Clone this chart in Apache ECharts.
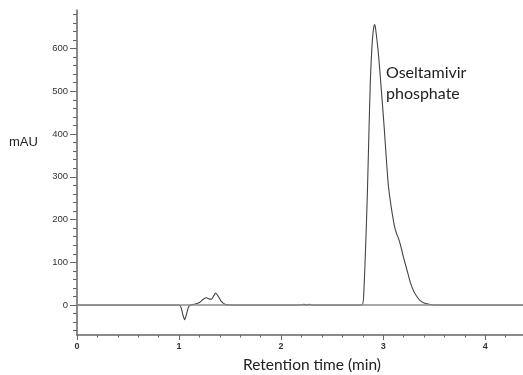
<!DOCTYPE html>
<html>
<head>
<meta charset="utf-8">
<script src="https://cdn.jsdelivr.net/npm/echarts@6/dist/echarts.min.js"></script>
<style>
  html, body { margin: 0; padding: 0; background: #fff; }
  #chart { width: 523px; height: 375px; }
</style>
</head>
<body>
<div id="chart"></div>
<script>
// Retention time (min) and detector response (mAU) of the chromatogram trace
const retentionTime = [
  0, 0.5, 1.0, 1.02, 1.04, 1.055, 1.07, 1.09, 1.11, 1.15, 1.2, 1.24, 1.27, 1.3, 1.32,
  1.34, 1.36, 1.38, 1.41, 1.45, 1.5, 2.2, 2.22, 2.25, 2.28, 2.3, 2.79, 2.81, 2.83,
  2.845, 2.86, 2.875, 2.89, 2.9, 2.908, 2.915, 2.922, 2.93, 2.95, 2.97, 2.99, 3.01,
  3.03, 3.05, 3.07, 3.09, 3.11, 3.13, 3.15, 3.17, 3.19, 3.21, 3.24, 3.27, 3.3, 3.33,
  3.36, 3.4, 3.45, 3.5, 4.37
];
const absorbance = [
  0, 0, 0, -6, -25, -34, -24, -6, 0, 2, 6, 14, 17, 14, 14,
  22, 28, 22, 10, 2, 0, 0, 2, 0, 2, 0, 0, 30, 150,
  260, 400, 530, 605, 635, 650, 656, 652, 638, 596, 540, 478, 415,
  345, 282, 243, 212, 185, 168, 156, 140, 120, 102, 76, 50, 32, 20,
  11, 5, 2, 0, 0
];
const xTicks = [0, 1, 2, 3, 4];
const yTicks = [0, 100, 200, 300, 400, 500, 600];
const peakName = 'Oseltamivir\nphosphate';
const yTitle = 'mAU';
const xTitle = 'Retention time (min)';

const Y_MIN = -70, Y_MAX = 690, X_MAX = 4.37;
// minor tick marks every 20 mAU between the labelled ones
const yMinorTicks = [];
for (let v = -60; v <= 680; v += 20) {
  if (!yTicks.includes(v)) yMinorTicks.push(v);
}

const trace = retentionTime.map((t, i) => [t, absorbance[i]]);
const baseline = [[0, 0], [X_MAX, 0]];

const chart = echarts.init(document.getElementById('chart'), null, { renderer: 'canvas' });
const axisGray = '#666';
chart.setOption({
  animation: false,
  backgroundColor: '#fff',
  grid: { left: 77, right: 0, top: 10, bottom: 40, containLabel: false },
  xAxis: {
    type: 'value', min: 0, max: X_MAX, interval: 1,
    axisLine: { show: true, onZero: false, lineStyle: { color: axisGray, width: 1.5 } },
    axisTick: { show: true, inside: false, length: 5, lineStyle: { color: axisGray } },
    minorTick: { show: true, splitNumber: 5, length: 2.5, lineStyle: { color: axisGray } },
    axisLabel: {
      fontFamily: 'Liberation Sans', fontSize: 9, fontWeight: 'bold', color: '#333', margin: 7,
      showMaxLabel: false,
      formatter: v => (xTicks.includes(v) ? String(v) : '')
    },
    splitLine: { show: false }
  },
  yAxis: [
    {
      type: 'value', min: Y_MIN, max: Y_MAX,
      axisLine: { show: true, onZero: false, lineStyle: { color: axisGray, width: 1.5 } },
      axisTick: { show: true, length: 7, customValues: yTicks, lineStyle: { color: axisGray } },
      axisLabel: {
        fontFamily: 'Liberation Sans', fontSize: 9.5, color: '#333', margin: 9,
        customValues: yTicks
      },
      splitLine: { show: false }
    },
    {
      type: 'value', min: Y_MIN, max: Y_MAX, position: 'left', offset: 0,
      axisLine: { show: false },
      axisTick: { show: true, length: 4, customValues: yMinorTicks, lineStyle: { color: axisGray } },
      axisLabel: { show: false },
      splitLine: { show: false }
    }
  ],
  graphic: [
    { type: 'text', left: 9, top: 136,
      style: { text: yTitle, fontFamily: 'Liberation Sans', fontSize: 13, fill: '#222' } },
    { type: 'text', left: 243, top: 357,
      style: { text: xTitle, fontFamily: 'Lato', fontSize: 15.5, fill: '#222' } },
    { type: 'text', left: 386, top: 62,
      style: { text: peakName, fontFamily: 'Lato', fontSize: 16, lineHeight: 21.5, fill: '#222' } }
  ],
  series: [
    {
      type: 'line', data: trace, showSymbol: false, smooth: 0.2, yAxisIndex: 0,
      lineStyle: { color: '#444', width: 1.1 }, z: 2
    },
    {
      type: 'line', data: baseline, showSymbol: false, yAxisIndex: 0,
      lineStyle: { color: '#8c8c8c', width: 1.6 }, z: 3
    }
  ]
});
</script>
</body>
</html>
